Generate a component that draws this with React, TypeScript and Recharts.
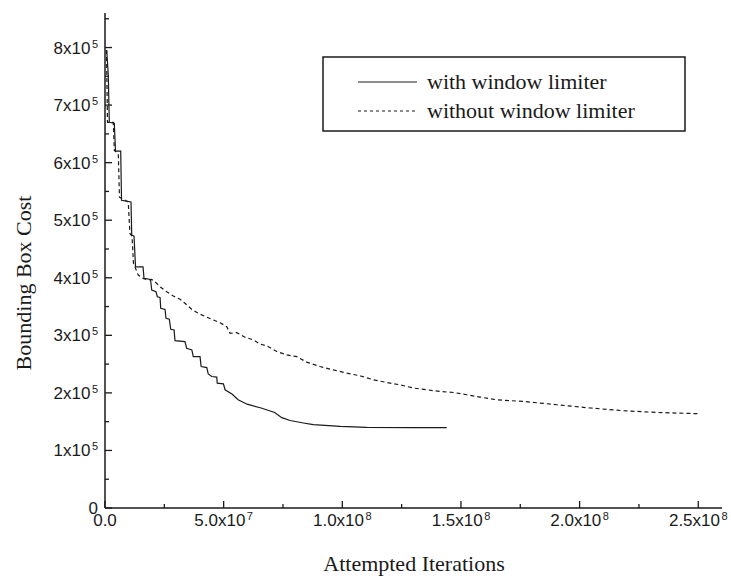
import React from 'react';
import { LineChart, Line, XAxis, YAxis } from 'recharts';

// Attempted iterations (millions) and bounding box cost (thousands)
const withLimiterIter = [0.72, 1.39, 1.81, 3.92, 4.43, 6.62, 6.96, 10.96, 11.26, 12.23, 12.86, 16.02, 16.44, 19.18, 19.69, 21.5, 22.05, 23.2, 23.48, 25.3, 25.7, 27.1, 27.7, 29.1, 29.5, 33.7, 34.4, 36.6, 37.2, 40.05, 40.5, 42.9, 43.5, 45, 47.1, 47.3, 49.9, 50.6, 53.5, 56.1, 59.9, 65.8, 71.5, 74.5, 78, 83.6, 87.8, 99.1, 110.3, 130, 144];
const withLimiterCost = [795.8, 751, 670, 668.6, 620, 620, 534.7, 531.7, 474, 472.3, 419, 419, 399, 397, 378.7, 375.7, 367, 365.7, 347, 345, 329.6, 328, 310.6, 309.4, 290.8, 289, 277.6, 274.7, 263, 263, 245.8, 244, 233, 228.4, 227.4, 217, 215.8, 205.4, 198, 188, 180.4, 173.7, 166, 157, 152, 147.7, 144.7, 141.8, 140, 139.5, 139.5];

const withoutLimiterIter = [0.63, 1.05, 3.5, 3.92, 5.6, 6.1, 9.8, 10.5, 11.4, 12, 14, 16.1, 18.3, 19.7, 21.1, 23.2, 26, 28.8, 31.6, 33.7, 36.6, 39.3, 42.9, 45.7, 48.5, 51.3, 52.7, 55.5, 59, 62.5, 65.3, 68.2, 72.4, 76.6, 80.8, 85, 90.6, 96.2, 101.9, 107.5, 113.1, 118.8, 124.4, 130, 135.6, 141.2, 146.8, 152.5, 158.1, 165.1, 176.4, 190.4, 204.5, 218.5, 232.6, 250.1];
const withoutLimiterCost = [795.8, 670, 670, 621, 615.6, 540, 531.7, 477, 472, 425, 404.7, 399, 396, 397, 393, 384.4, 375.7, 368.3, 362.6, 355.6, 345, 338.3, 331.4, 326.7, 322, 315, 303.6, 304.7, 296.7, 292, 285, 281.6, 271.8, 266, 263, 253.4, 245.8, 240, 234.3, 229.6, 222.7, 218, 214, 208.3, 205.4, 202.4, 200.7, 196.7, 192.7, 188, 185.1, 179.4, 173.7, 169, 166, 163.8];

const seriesNames = ['with window limiter', 'without window limiter'];

const xTicks = [0, 25, 50, 75, 100, 125, 150, 175, 200, 225, 250];
const xMajorTicks = [0, 50, 100, 150, 200, 250];
const xTickMantissas = ['0.0', '5.0x10', '1.0x10', '1.5x10', '2.0x10', '2.5x10'];
const xTickExponents = ['', '7', '8', '8', '8', '8'];

const yTicks = [0, 50, 100, 150, 200, 250, 300, 350, 400, 450, 500, 550, 600, 650, 700, 750, 800, 850];
const yMajorTicks = [0, 100, 200, 300, 400, 500, 600, 700, 800];
const yTickMantissas = ['0', '1x10', '2x10', '3x10', '4x10', '5x10', '6x10', '7x10', '8x10'];
const yTickExponents = ['', '5', '5', '5', '5', '5', '5', '5', '5'];

const xTitle = 'Attempted Iterations';
const yTitle = 'Bounding Box Cost';

const withData = withLimiterIter.map((x, i) => ({ x, y: withLimiterCost[i] }));
const withoutData = withoutLimiterIter.map((x, i) => ({ x, y: withoutLimiterCost[i] }));

const INK = '#1a1a1a';
const SANS = '"Liberation Sans", Arial, sans-serif';
const SERIF = '"Liberation Serif", "Times New Roman", serif';
const MAJOR = 7;
const MINOR = 4;

const XTick = (props: any) => {
  const { x, y, payload, side } = props;
  const idx = xMajorTicks.indexOf(payload.value);
  const major = idx >= 0;
  const len = major ? MAJOR : MINOR;
  const dir = side === 'top' ? 1 : -1;
  return (
    <g>
      <line x1={x} y1={y} x2={x} y2={y + dir * len} stroke={INK} strokeWidth={1.3} />
      {side === 'bottom' && major && (
        <text x={x} y={y + 18} textAnchor="middle" fontFamily={SANS} fontSize={17} fill={INK}>
          {xTickMantissas[idx]}
          {xTickExponents[idx] ? (
            <tspan dx={1.5} dy={-6} fontSize={11}>{xTickExponents[idx]}</tspan>
          ) : null}
        </text>
      )}
    </g>
  );
};

const YTick = (props: any) => {
  const { x, y, payload, side } = props;
  const idx = yMajorTicks.indexOf(payload.value);
  const major = idx >= 0;
  const len = major ? MAJOR : MINOR;
  const dir = side === 'left' ? 1 : -1;
  return (
    <g>
      <line x1={x} y1={y} x2={x + dir * len} y2={y} stroke={INK} strokeWidth={1.3} />
      {side === 'left' && major && (
        <text x={x - 7} y={y + 6} textAnchor="end" fontFamily={SANS} fontSize={17} fill={INK}>
          {yTickMantissas[idx]}
          {yTickExponents[idx] ? (
            <tspan dx={1.5} dy={-6} fontSize={11}>{yTickExponents[idx]}</tspan>
          ) : null}
        </text>
      )}
    </g>
  );
};

const axisLine = { stroke: INK, strokeWidth: 1.5 };

export default function App() {
  return (
    <div style={{ position: 'absolute', left: 0, top: 0, width: 731, height: 578, background: '#fff' }}>
      <LineChart width={731} height={578} margin={{ top: 13, right: 9, bottom: 0, left: 0 }}>
        <XAxis
          xAxisId="b"
          dataKey="x"
          type="number"
          domain={[0, 260]}
          ticks={xTicks}
          interval={0}
          height={70}
          tickSize={0}
          tickMargin={0}
          tickLine={false}
          axisLine={axisLine}
          allowDataOverflow
          tick={(p: any) => <XTick {...p} side="bottom" />}
        />
        <XAxis
          xAxisId="t"
          orientation="top"
          dataKey="x"
          type="number"
          domain={[0, 260]}
          ticks={xTicks}
          interval={0}
          height={0}
          tickSize={0}
          tickMargin={0}
          tickLine={false}
          axisLine={axisLine}
          allowDataOverflow
          tick={(p: any) => <XTick {...p} side="top" />}
        />
        <YAxis
          yAxisId="l"
          type="number"
          domain={[0, 860]}
          ticks={yTicks}
          interval={0}
          width={105}
          tickSize={0}
          tickMargin={0}
          tickLine={false}
          axisLine={axisLine}
          allowDataOverflow
          tick={(p: any) => <YTick {...p} side="left" />}
        />
        <YAxis
          yAxisId="r"
          orientation="right"
          type="number"
          domain={[0, 860]}
          ticks={yTicks}
          interval={0}
          width={0}
          tickSize={0}
          tickMargin={0}
          tickLine={false}
          axisLine={axisLine}
          allowDataOverflow
          tick={(p: any) => <YTick {...p} side="right" />}
        />
        <Line
          xAxisId="b"
          yAxisId="l"
          data={withData}
          dataKey="y"
          name={seriesNames[0]}
          type="linear"
          stroke={INK}
          strokeWidth={1.2}
          dot={false}
          isAnimationActive={false}
        />
        <Line
          xAxisId="b"
          yAxisId="l"
          data={withoutData}
          dataKey="y"
          name={seriesNames[1]}
          type="linear"
          stroke={INK}
          strokeWidth={1.2}
          strokeDasharray="4 3"
          dot={false}
          isAnimationActive={false}
        />
      </LineChart>
      <svg
        width={731}
        height={578}
        style={{ position: 'absolute', left: 0, top: 0, pointerEvents: 'none' }}
      >
        <text x={414} y={571} textAnchor="middle" fontFamily={SERIF} fontSize={22} fill={INK}>
          {xTitle}
        </text>
        <text
          x={31}
          y={283}
          textAnchor="middle"
          fontFamily={SERIF}
          fontSize={22}
          fill={INK}
          transform="rotate(-90, 31, 283)"
        >
          {yTitle}
        </text>
        <rect x={323} y={57} width={362} height={74} fill="#fff" stroke={INK} strokeWidth={1.5} />
        <line x1={358} y1={82} x2={417} y2={82} stroke={INK} strokeWidth={1.2} />
        <text x={427} y={89} fontFamily={SERIF} fontSize={22} fill={INK}>{seriesNames[0]}</text>
        <line x1={358} y1={111} x2={417} y2={111} stroke={INK} strokeWidth={1.2} strokeDasharray="3 3" />
        <text x={427} y={118} fontFamily={SERIF} fontSize={22} fill={INK}>{seriesNames[1]}</text>
      </svg>
    </div>
  );
}
